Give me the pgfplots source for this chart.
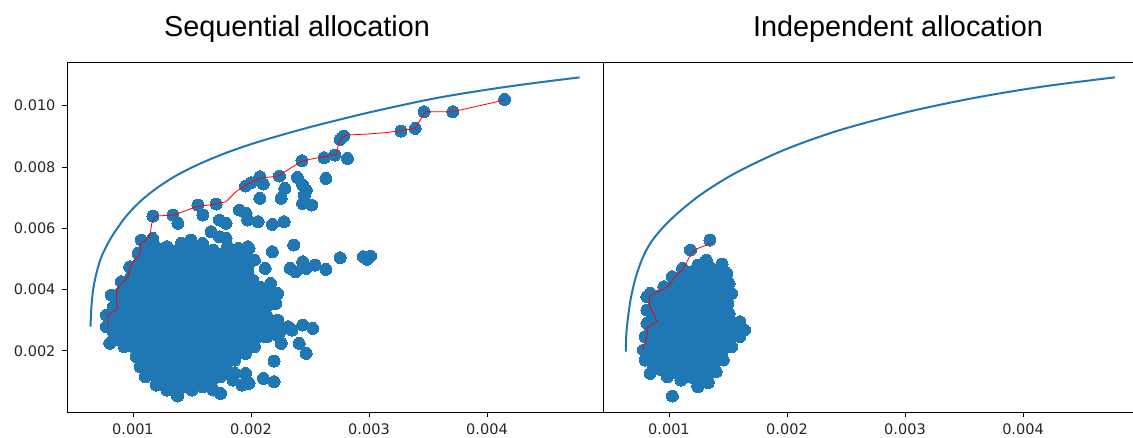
\documentclass[border=0pt]{standalone}
\usepackage{pgfplots}
\pgfplotsset{compat=1.18}
\usepackage{fontspec}
\setmainfont{DejaVu Sans}
\newfontfamily\titlefont{Liberation Sans}
\definecolor{c0}{HTML}{1F77B4}
\pgfplotsset{
  panel/.style={
    set layers,
    anchor=south west, scale only axis, width=536bp, height=350bp,
    xmin=0.000441, xmax=0.004983, ymin=0, ymax=0.011427,
    axis line style={black, line width=0.8bp},
    tick style={black, line width=0.8bp},
    major tick length=5bp, tick align=outside,
    xtick pos=left, ytick pos=left,
    xtick={0.001,0.002,0.003,0.004},
    xticklabels={0.001,0.002,0.003,0.004},
    scaled ticks=false,
    /pgf/number format/assume math mode=true,
    tick label style={font=\fontsize{14.5bp}{16bp}\selectfont, text=black!85},
    xticklabel style={yshift=-3.5bp},
    yticklabel style={xshift=-3bp},
    clip=false,
  },
  front/.style={c0, line width=2bp, smooth},
  dots/.style={only marks, mark=*, mark size=6bp, mark options={fill=c0, draw=c0, line width=0pt}},
  blob/.style={fill=c0, draw=c0, line width=0pt, mark=none},
  path/.style={red, line width=0.8bp, mark=none, on layer=axis foreground},
}
\begin{document}
\begin{tikzpicture}
% ---------------- Sequential allocation ----------------
\begin{axis}[panel, at={(67bp,26bp)},
  ytick={0.002,0.004,0.006,0.008,0.010},
  yticklabels={0.002,0.004,0.006,0.008,0.010}]
\addplot[front] coordinates {
(0.000640,0.002785) (0.000648,0.003438) (0.000662,0.003982) (0.000690,0.004526)
(0.000733,0.005070) (0.000803,0.005615) (0.000873,0.006030) (0.000944,0.006400)
(0.001057,0.006860) (0.001198,0.007300) (0.001367,0.007720) (0.001564,0.008100)
(0.001789,0.008460) (0.002071,0.008830) (0.002499,0.009300) (0.003013,0.009790)
(0.003558,0.010240) (0.004012,0.010530) (0.004400,0.010740) (0.004785,0.010925)};
\addplot[blob] coordinates {
(0.001071,0.005615) (0.001167,0.005668) (0.001288,0.005397) (0.001409,0.005505)
(0.001493,0.005615) (0.001590,0.005505) (0.001681,0.005288) (0.001802,0.005397)
(0.001893,0.005342) (0.001984,0.005342) (0.002029,0.004961) (0.002014,0.004308)
(0.002166,0.004199) (0.002226,0.003873) (0.002211,0.003546) (0.002135,0.003111)
(0.002226,0.003002) (0.002317,0.002785) (0.002256,0.002240) (0.002135,0.002458)
(0.002029,0.002131) (0.001954,0.001914) (0.001863,0.001696) (0.001802,0.001370)
(0.001742,0.001152) (0.001681,0.000717) (0.001590,0.000826) (0.001500,0.000717)
(0.001378,0.000553) (0.001288,0.000717) (0.001197,0.000880) (0.001106,0.001152)
(0.001061,0.001478) (0.001030,0.001805) (0.000924,0.002131) (0.000803,0.002242)
(0.000775,0.002785) (0.000775,0.003166) (0.000833,0.003437) (0.000817,0.003819)
(0.000902,0.004254) (0.000972,0.004744) (0.001043,0.005179) (0.001071,0.005615)};
\addplot[dots] coordinates {
(0.001071,0.005615) (0.001167,0.005668) (0.001288,0.005397) (0.001409,0.005505)
(0.001493,0.005615) (0.001590,0.005505) (0.001681,0.005288) (0.001802,0.005397)
(0.001893,0.005342) (0.001984,0.005342) (0.002029,0.004961) (0.002014,0.004308)
(0.002166,0.004199) (0.002226,0.003873) (0.002211,0.003546) (0.002135,0.003111)
(0.002226,0.003002) (0.002317,0.002785) (0.002256,0.002240) (0.002135,0.002458)
(0.002029,0.002131) (0.001954,0.001914) (0.001863,0.001696) (0.001802,0.001370)
(0.001742,0.001152) (0.001681,0.000717) (0.001590,0.000826) (0.001500,0.000717)
(0.001378,0.000553) (0.001288,0.000717) (0.001197,0.000880) (0.001106,0.001152)
(0.001061,0.001478) (0.001030,0.001805) (0.000924,0.002131) (0.000803,0.002242)
(0.000775,0.002785) (0.000775,0.003166) (0.000833,0.003437) (0.000817,0.003819)
(0.000902,0.004254) (0.000972,0.004744) (0.001043,0.005179)
(0.004149,0.010207) (0.003710,0.009804) (0.003467,0.009804) (0.003392,0.009260)
(0.003271,0.009173) (0.002786,0.009010) (0.002756,0.008901) (0.002620,0.008302)
(0.002711,0.008389) (0.002817,0.008280) (0.002432,0.008204) (0.002635,0.007627)
(0.002393,0.007660) (0.002438,0.007410) (0.002468,0.007247) (0.002453,0.007083)
(0.002287,0.007301) (0.002256,0.006975) (0.002438,0.006811) (0.002514,0.006757)
(0.002075,0.007682) (0.001999,0.007486) (0.001954,0.007377) (0.002105,0.007442)
(0.002075,0.006975) (0.002241,0.007704)
(0.001169,0.006398) (0.001338,0.006431) (0.001381,0.006159) (0.001550,0.006758)
(0.001592,0.006431) (0.001705,0.006790) (0.001733,0.006268) (0.001789,0.006159)
(0.001902,0.006594) (0.001958,0.006486) (0.001972,0.006268) (0.001662,0.005887)
(0.001733,0.005723) (0.001789,0.005669) (0.001972,0.005397)
(0.002060,0.006213) (0.002181,0.006126) (0.002281,0.006213)
(0.002362,0.005451) (0.002181,0.005233) (0.002120,0.004689)
(0.002756,0.005037) (0.002953,0.005070) (0.002983,0.004983) (0.003013,0.005092)
(0.002332,0.004689) (0.002378,0.004580) (0.002438,0.004907) (0.002468,0.004689)
(0.002544,0.004798) (0.002635,0.004656)
(0.002438,0.002839) (0.002523,0.002730) (0.002256,0.002730) (0.002347,0.002676)
(0.002120,0.002458) (0.002256,0.002262) (0.002408,0.002240) (0.002468,0.001914)
(0.002196,0.001663) (0.001954,0.001261) (0.001984,0.000935) (0.002105,0.001098)
(0.002196,0.000989) (0.001863,0.001261) (0.001848,0.001043) (0.001923,0.000880)
(0.001742,0.000608) (0.001378,0.000521)};
\addplot[path] coordinates {
(0.000789,0.002730) (0.000789,0.003166) (0.000865,0.003351) (0.000859,0.003982)
(0.000958,0.004417) (0.000972,0.004690) (0.001014,0.004962) (0.001057,0.005125)
(0.001065,0.005506) (0.001127,0.005669) (0.001147,0.005832) (0.001164,0.006268)
(0.001198,0.006398) (0.001352,0.006431) (0.001536,0.006703) (0.001705,0.006790)
(0.001789,0.006866) (0.001874,0.007193) (0.001958,0.007411) (0.002071,0.007628)
(0.002226,0.007704) (0.002287,0.007845) (0.002423,0.008172) (0.002499,0.008248)
(0.002620,0.008335) (0.002726,0.008411) (0.002741,0.008770) (0.002771,0.008966)
(0.002817,0.009042) (0.002983,0.009075) (0.003134,0.009118) (0.003271,0.009184)
(0.003392,0.009260) (0.003467,0.009750) (0.003483,0.009804) (0.003710,0.009804)
(0.004149,0.010185)};
\end{axis}
% ---------------- Independent allocation ----------------
\begin{axis}[panel, at={(603bp,26bp)}, ytick=\empty]
\addplot[front] coordinates {
(0.000634,0.001968) (0.000639,0.002567) (0.000654,0.003111) (0.000674,0.003655)
(0.000712,0.004308) (0.000769,0.004961) (0.000841,0.005505) (0.000942,0.005995)
(0.001072,0.006485) (0.001274,0.007110) (0.001562,0.007800) (0.001966,0.008540)
(0.002428,0.009180) (0.003004,0.009780) (0.003581,0.010250) (0.004158,0.010620)
(0.004778,0.010925)};
\addplot[blob] coordinates {
(0.000841,0.003873) (0.000957,0.004091) (0.001029,0.004417) (0.001115,0.004689)
(0.001245,0.004798) (0.001360,0.004689) (0.001450,0.004830) (0.001490,0.004526)
(0.001510,0.004199) (0.001530,0.003873) (0.001500,0.003546) (0.001510,0.003220)
(0.001600,0.002948) (0.001640,0.002676) (0.001600,0.002458) (0.001530,0.002131)
(0.001460,0.001696) (0.001400,0.001315) (0.001332,0.000989) (0.001245,0.000880)
(0.001101,0.001043) (0.000986,0.001152) (0.000841,0.001261) (0.000798,0.001696)
(0.000784,0.002023) (0.000798,0.002458) (0.000813,0.002893) (0.000813,0.003329)
(0.000841,0.003873)};
\addplot[dots] coordinates {
(0.000841,0.003873) (0.000957,0.004091) (0.001029,0.004417) (0.001115,0.004689)
(0.001245,0.004798) (0.001360,0.004689) (0.001450,0.004830) (0.001490,0.004526)
(0.001510,0.004199) (0.001530,0.003873) (0.001500,0.003546) (0.001510,0.003220)
(0.001600,0.002948) (0.001640,0.002676) (0.001600,0.002458) (0.001530,0.002131)
(0.001460,0.001696) (0.001400,0.001315) (0.001332,0.000989) (0.001245,0.000880)
(0.001101,0.001043) (0.000986,0.001152) (0.000841,0.001261) (0.000798,0.001696)
(0.000784,0.002023) (0.000798,0.002458) (0.000813,0.002893) (0.000813,0.003329)
(0.001346,0.005614) (0.001182,0.005288) (0.001317,0.004961) (0.001029,0.000521)
(0.001245,0.000826) (0.001332,0.000956) (0.000813,0.003764)};
\addplot[path] coordinates {
(0.000778,0.002045) (0.000813,0.002458) (0.000821,0.002785) (0.000899,0.002948)
(0.000870,0.003220) (0.000836,0.003437) (0.000833,0.003785) (0.000942,0.003982)
(0.001000,0.004145) (0.001058,0.004439) (0.001115,0.004634) (0.001153,0.004907)
(0.001187,0.005179) (0.001245,0.005342) (0.001369,0.005527)};
\end{axis}
\node[anchor=base, font=\titlefont\fontsize{28.8bp}{34bp}\selectfont] at (297bp,401bp) {Sequential allocation};
\node[anchor=base, font=\titlefont\fontsize{28.8bp}{34bp}\selectfont] at (898bp,401bp) {Independent allocation};
\pgfresetboundingbox
\useasboundingbox (0,0) rectangle (1133bp,438bp);
\end{tikzpicture}
\end{document}
